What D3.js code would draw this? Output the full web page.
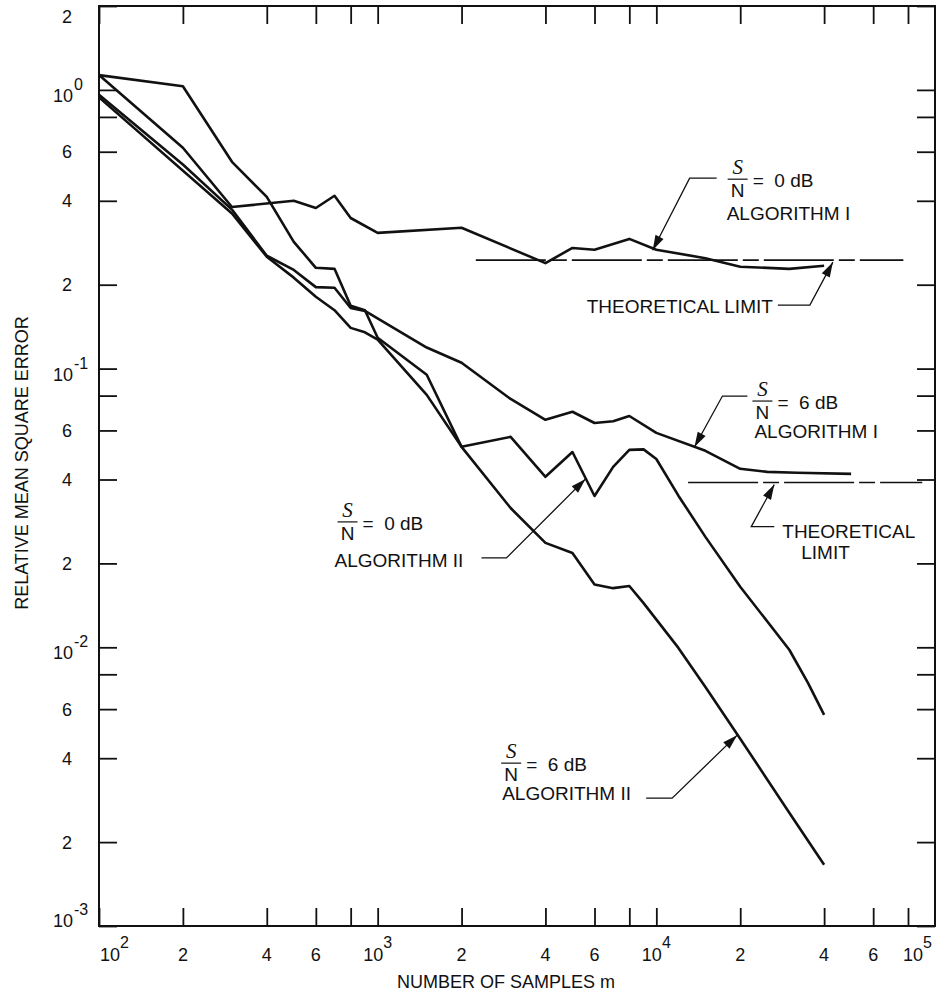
<!DOCTYPE html>
<html>
<head>
<meta charset="utf-8">
<script src="https://cdn.jsdelivr.net/npm/d3@7"></script>
<style>
  body { margin: 0; background: #fff; }
  text { font-family: "Liberation Sans", Arial, sans-serif; fill: #111; }
</style>
</head>
<body>
<svg id="chart"></svg>
<script>
// number of samples m vs relative mean square error
const snr0Alg1 = [[100,1.13],[200,0.62],[300,0.38],[500,0.40],[600,0.377],[700,0.417],[800,0.347],[1000,0.307],[2000,0.32],[4000,0.239],[5000,0.271],[6000,0.267],[8000,0.292],[10000,0.267],[15000,0.249],[20000,0.232],[30000,0.228],[40000,0.234]];
const snr0Alg2 = [[100,1.13],[200,1.03],[300,0.552],[400,0.413],[500,0.285],[600,0.23],[700,0.228],[800,0.168],[900,0.162],[1000,0.129],[1500,0.095],[2000,0.0524],[3000,0.0569],[4000,0.0409],[5000,0.0502],[6000,0.0349],[7000,0.0444],[8000,0.0511],[9000,0.0513],[10000,0.0474],[12000,0.035],[15000,0.0249],[20000,0.0165],[30000,0.0098],[35000,0.00745],[40000,0.00572]];
const snr6Alg1 = [[100,0.96],[200,0.54],[300,0.372],[400,0.254],[500,0.226],[600,0.196],[700,0.195],[800,0.165],[900,0.161],[1500,0.119],[2000,0.105],[3000,0.0778],[4000,0.0655],[5000,0.070],[6000,0.0638],[7000,0.0647],[8000,0.0676],[10000,0.0588],[15000,0.0507],[20000,0.0437],[25000,0.0426],[32000,0.0423],[50000,0.0419]];
const snr6Alg2 = [[100,0.94],[300,0.36],[400,0.252],[500,0.212],[600,0.181],[700,0.162],[800,0.14],[900,0.135],[1000,0.127],[1500,0.0805],[2000,0.0524],[3000,0.0316],[4000,0.0237],[5000,0.0218],[6000,0.0168],[7000,0.0163],[8000,0.0166],[9000,0.0144],[12000,0.00995],[15000,0.00721],[20000,0.0047],[30000,0.00255],[40000,0.00166]];

// theoretical limits: [value, from m, to m]
const limit0 = [0.245, 2250, 77000];
const limit6 = [0.039, 13000, 90000];

const xTicks = [100,200,400,600,800,1e3,2e3,4e3,6e3,8e3,1e4,2e4,4e4,6e4,8e4,1e5];
const xLabels = [100,200,400,600,1e3,2e3,4e3,6e3,1e4,2e4,4e4,6e4,1e5];
const yTicks = [1e-3,2e-3,4e-3,6e-3,8e-3,1e-2,2e-2,4e-2,6e-2,8e-2,0.1,0.2,0.4,0.6,0.8,1,2];
const yLabels = [1e-3,2e-3,4e-3,6e-3,1e-2,2e-2,4e-2,6e-2,0.1,0.2,0.4,0.6,1,2];

const width = 936;
const height = 991;
const frame = { left: 99, right: 935, top: 6, bottom: 926 };

const svg = d3.select("#chart")
  .attr("width", width)
  .attr("height", height);

const x = d3.scaleLog().domain([100, 1e5]).range([frame.left, frame.right]);
const y = d3.scaleLog().domain([1e-3, 2]).range([frame.bottom, frame.top]);

// frame
svg.append("rect")
  .attr("x", frame.left).attr("y", frame.top)
  .attr("width", frame.right - frame.left).attr("height", frame.bottom - frame.top)
  .attr("fill", "none").attr("stroke", "#111").attr("stroke-width", 2);

// inward ticks on all four sides
const tick = 18;
const axes = [
  [d3.axisBottom(x).tickValues(xTicks), `translate(0,${frame.bottom})`],
  [d3.axisTop(x).tickValues(xTicks), `translate(0,${frame.top})`],
  [d3.axisLeft(y).tickValues(yTicks), `translate(${frame.left},0)`],
  [d3.axisRight(y).tickValues(yTicks), `translate(${frame.right},0)`]
];
axes.forEach(([ax, tr]) => {
  const g = svg.append("g").attr("transform", tr)
    .call(ax.tickSize(-tick).tickSizeOuter(0).tickFormat(""));
  g.select(".domain").remove();
  g.selectAll(".tick line").attr("stroke", "#111").attr("stroke-width", 1.8);
});

const isDecade = v => Math.abs(Math.log10(v) - Math.round(Math.log10(v))) < 1e-9;
const mant = v => Math.round(v / Math.pow(10, Math.floor(Math.log10(v) + 1e-9)));

// x tick labels
xLabels.forEach((v, i) => {
  let px = x(v), anchor = "middle";
  if (i === 0) { anchor = "start"; px += 1; }
  if (i === xLabels.length - 1) { anchor = "end"; px -= 3; }
  const t = svg.append("text")
    .attr("x", px).attr("y", 961)
    .attr("text-anchor", anchor)
    .attr("font-size", 18);
  if (isDecade(v)) {
    t.append("tspan").text("10");
    t.append("tspan").attr("dy", -13).attr("font-size", 16).text(Math.round(Math.log10(v)));
  } else {
    t.text(mant(v));
  }
});

// y tick labels
yLabels.forEach(v => {
  const py = y(v);
  if (isDecade(v)) {
    const base = Math.min(py + 12, 927);
    svg.append("text").attr("x", 73).attr("y", base)
      .attr("text-anchor", "end").attr("font-size", 18).text("10");
    svg.append("text").attr("x", 74).attr("y", base - 12)
      .attr("font-size", 16).text(Math.round(Math.log10(v)));
  } else {
    svg.append("text").attr("x", 72).attr("y", Math.max(py + 6.5, 23))
      .attr("text-anchor", "end").attr("font-size", 18).text(mant(v));
  }
});

// axis titles
svg.append("text")
  .attr("x", 506).attr("y", 988)
  .attr("text-anchor", "middle").attr("font-size", 18)
  .text("NUMBER OF SAMPLES m");

svg.append("text")
  .attr("transform", "translate(28,463) rotate(-90)")
  .attr("text-anchor", "middle").attr("font-size", 18)
  .text("RELATIVE MEAN SQUARE ERROR");

// curves
const line = d3.line().x(d => x(d[0])).y(d => y(d[1]));
[snr0Alg1, snr0Alg2, snr6Alg1, snr6Alg2].forEach(s => {
  svg.append("path")
    .datum(s)
    .attr("d", line)
    .attr("fill", "none")
    .attr("stroke", "#111")
    .attr("stroke-width", 2.6)
    .attr("stroke-linejoin", "round");
});

// theoretical limit lines
[limit0, limit6].forEach(([v, m0, m1]) => {
  svg.append("line")
    .attr("x1", x(m0)).attr("x2", x(m1))
    .attr("y1", y(v)).attr("y2", y(v))
    .attr("stroke", "#111")
    .attr("stroke-width", 1.6)
    .attr("stroke-dasharray", "70,5,16,5");
});

// callouts: tip on a curve (data), leader path and text offsets in px from the tip
const callouts = [
  { tip: [9700, 0.266], path: [[0,0],[37,-72],[64,-72]], snr: "0 dB", frac: [85,-71], alg: ["ALGORITHM I", 74, -30] },
  { tip: [43000, limit0[0]], path: [[0,2],[-23,45],[-55,45]], texts: [["THEORETICAL LIMIT", -60, 53, "end"]] },
  { tip: [13700, 0.0523], path: [[0,0],[28,-51],[53,-51]], snr: "6 dB", frac: [68,-46], alg: ["ALGORITHM I", 60, -9] },
  { tip: [26500, limit6[0]], path: [[0,2],[-23,44],[0,44]], texts: [["THEORETICAL", 8, 55, "start"], ["LIMIT", 27, 76, "start"]] },
  { tip: [5570, 0.0402], path: [[0,0],[-79,79],[-104,79]], snr: "0 dB", frac: [-238,43], alg: ["ALGORITHM II", -251, 88] },
  { tip: [19500, 0.00484], path: [[0,0],[-65,63],[-91,63]], snr: "6 dB", frac: [-226,28], alg: ["ALGORITHM II", -235, 65] }
];

callouts.forEach(c => {
  const tx = x(c.tip[0]), ty = y(c.tip[1]);
  const g = svg.append("g").attr("transform", `translate(${tx},${ty})`);
  const pts = c.path.slice().reverse();
  g.append("path")
    .attr("d", d3.line()(pts))
    .attr("fill", "none").attr("stroke", "#111").attr("stroke-width", 1.3);

  // arrow head
  const [ex, ey] = c.path[1], [px, py] = c.path[0];
  const len = Math.hypot(px - ex, py - ey);
  const ux = (px - ex) / len, uy = (py - ey) / len;
  const bx = px - 15 * ux, by = py - 15 * uy;
  g.append("polygon")
    .attr("points", [[px, py], [bx - 4.5 * uy, by + 4.5 * ux], [bx + 4.5 * uy, by - 4.5 * ux]].join(" "))
    .attr("fill", "#111");

  if (c.snr) {
    const [fx, fy] = c.frac;
    g.append("text").attr("x", fx).attr("y", fy - 5)
      .attr("text-anchor", "middle").attr("font-size", 21)
      .style("font-family", "'Liberation Serif', serif").style("font-style", "italic")
      .text("S");
    g.append("line").attr("x1", fx - 10).attr("x2", fx + 10)
      .attr("y1", fy).attr("y2", fy).attr("stroke", "#111").attr("stroke-width", 1.2);
    g.append("text").attr("x", fx).attr("y", fy + 18)
      .attr("text-anchor", "middle").attr("font-size", 19).text("N");
    g.append("text").attr("x", fx + 15).attr("y", fy + 8)
      .attr("font-size", 19).attr("xml:space", "preserve").text("=  " + c.snr);
    g.append("text").attr("x", c.alg[1]).attr("y", c.alg[2])
      .attr("font-size", 19).text(c.alg[0]);
  }
  (c.texts || []).forEach(([t, dx, dy, anchor]) => {
    g.append("text").attr("x", dx).attr("y", dy)
      .attr("text-anchor", anchor).attr("font-size", 19).text(t);
  });
});
</script>
</body>
</html>
